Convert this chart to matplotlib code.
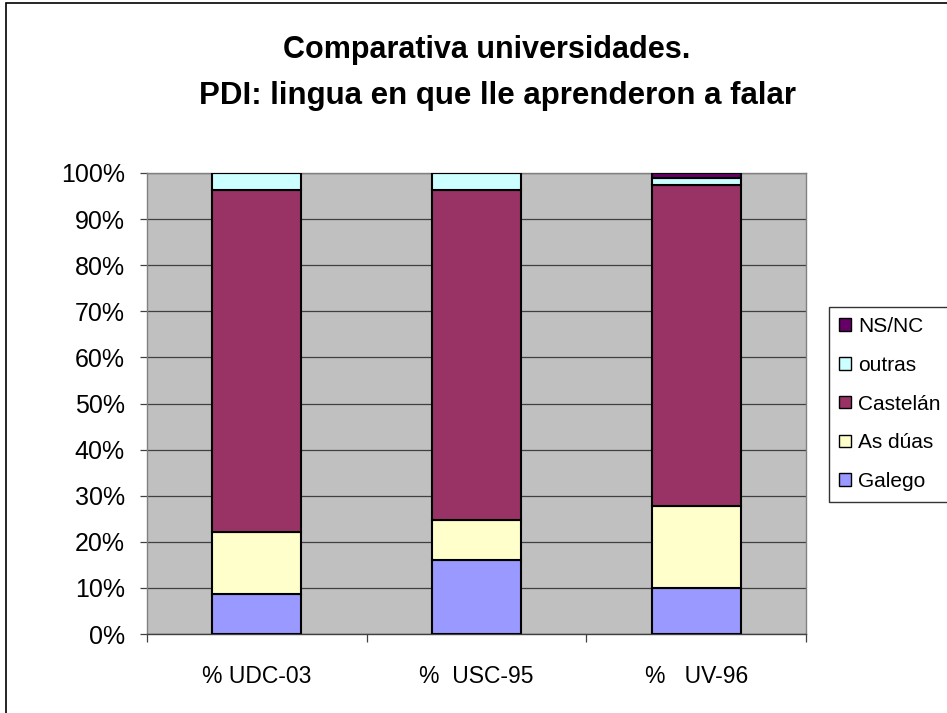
import matplotlib.pyplot as plt
import numpy as np
from matplotlib.patches import Rectangle, Patch
from matplotlib.ticker import FixedLocator

plt.rcParams['font.family'] = ['Liberation Sans', 'DejaVu Sans']

categories = ['% UDC-03', '%  USC-95', '%   UV-96']
series = ['Galego', 'As dúas', 'Castelán', 'outras', 'NS/NC']
galego = [8.7, 16.0, 9.9]
as_duas = [13.4, 8.7, 17.9]
castelan = [74.2, 71.6, 69.7]
outras = [3.7, 3.7, 1.4]
nsnc = [0.0, 0.0, 1.1]
colors = ['#9999FF', '#FFFFCC', '#993366', '#CCFFFF', '#660066']

fig = plt.figure(figsize=(9.47, 7.13), dpi=100)
fig.patches.append(Rectangle((6/947, -0.1), 1.2, 1 - 3/713 + 0.1, transform=fig.transFigure,
                             fill=False, edgecolor='black', linewidth=1.2))

ax = fig.add_axes([147/947, 1 - 634/713, 659/947, 461/713])
ax.set_facecolor('#C0C0C0')

x = np.arange(len(categories))
bottom = np.zeros(len(categories))
for name, vals, c in zip(series, [galego, as_duas, castelan, outras, nsnc], colors):
    ax.bar(x, vals, 0.405, bottom=bottom, color=c, edgecolor='black', linewidth=1.5,
           label=name, zorder=3)
    bottom += np.array(vals)

ax.set_xlim(-0.5, 2.5)
ax.set_ylim(0, 100)
ax.set_yticks(np.arange(0, 101, 10))
ax.set_yticklabels([f'{v}%' for v in range(0, 101, 10)], fontsize=18)
ax.yaxis.grid(True, color='#404040', linewidth=0.9, zorder=1)
ax.set_axisbelow(True)
ax.tick_params(axis='y', length=5, width=0.9, color='#404040', pad=11)

ax.set_xticks(x)
ax.set_xticklabels(categories, fontsize=16.5)
ax.xaxis.set_minor_locator(FixedLocator([-0.5, 0.5, 1.5, 2.5]))
ax.tick_params(axis='x', which='major', length=0, pad=22)
ax.tick_params(axis='x', which='minor', length=6, width=0.9, color='#404040')

for s in ax.spines.values():
    s.set_color('#808080')
    s.set_linewidth(1.0)
ax.spines['bottom'].set_color('#404040')

fig.text(487/947, 1 - 50/713, 'Comparativa universidades.', ha='center', va='center',
         fontsize=22, fontweight='bold')
fig.text(497/947, 1 - 96/713, 'PDI: lingua en que lle aprenderon a falar', ha='center', va='center',
         fontsize=22.5, fontweight='bold')

handles = [Patch(facecolor=c, edgecolor='black', linewidth=1.0) for c in colors][::-1]
leg = fig.legend(handles, series[::-1], loc='center left', bbox_to_anchor=(829/947, 1 - 404/713),
                 fontsize=15, frameon=True, fancybox=False, edgecolor='black',
                 handlelength=0.55, handleheight=0.55, handletextpad=0.35, labelspacing=0.95,
                 borderpad=0.5, borderaxespad=0)
leg.get_frame().set_linewidth(1.0)

fig.savefig('out.png', dpi=100)
